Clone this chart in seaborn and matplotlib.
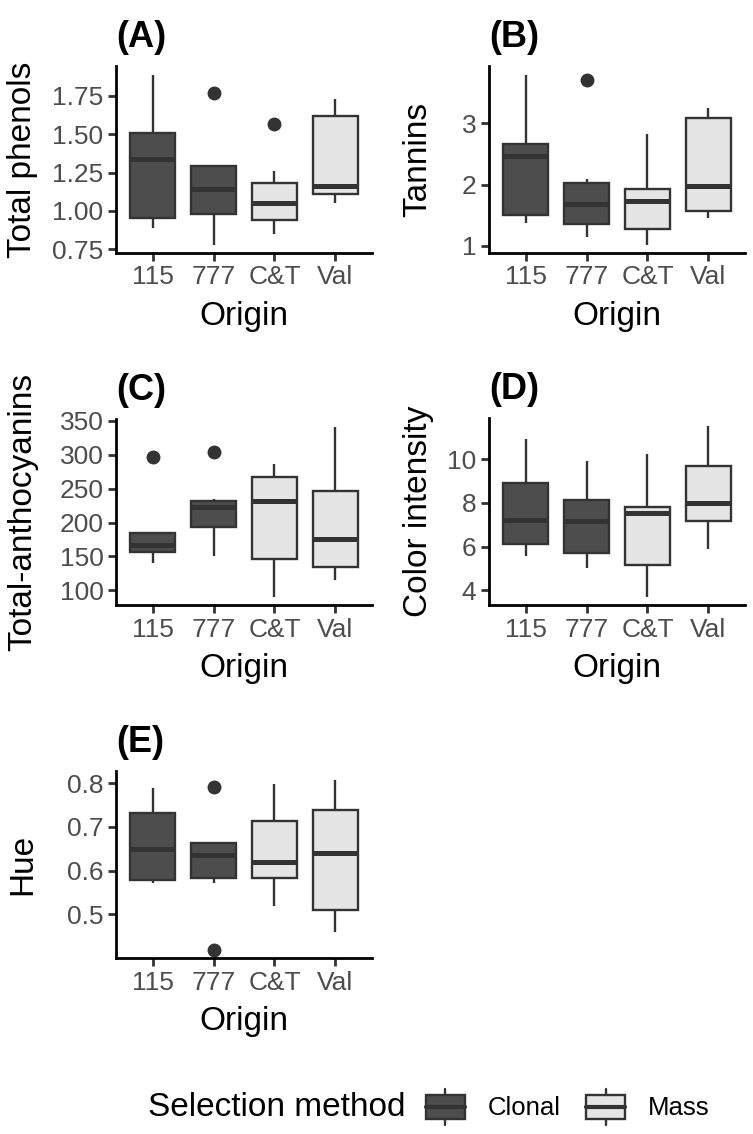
import numpy as np
import pandas as pd
import matplotlib
matplotlib.use("Agg")
import matplotlib.pyplot as plt
import seaborn as sns
from matplotlib.legend_handler import HandlerBase
from matplotlib.patches import Patch, Rectangle
from matplotlib.lines import Line2D
from matplotlib.ticker import FixedLocator, FormatStrFormatter

# categories
origins = ["115", "777", "C&T", "Val"]
selection = {"115": "Clonal", "777": "Clonal", "C&T": "Mass", "Val": "Mass"}

# values (whisker ends, quartiles, medians, outliers)
phenols_115 = [0.89, 0.92, 0.95, 1.20, 1.34, 1.45, 1.51, 1.70, 1.89]
phenols_777 = [0.78, 0.90, 0.98, 1.10, 1.14, 1.20, 1.29, 1.29, 1.77]
phenols_ct = [0.85, 0.90, 0.94, 1.00, 1.05, 1.10, 1.18, 1.26, 1.57]
phenols_val = [1.05, 1.11, 1.16, 1.62, 1.73]

tannins_115 = [1.37, 1.50, 2.47, 2.67, 3.80]
tannins_777 = [1.14, 1.25, 1.36, 1.50, 1.68, 1.90, 2.03, 2.09, 3.71]
tannins_ct = [1.02, 1.28, 1.73, 1.93, 2.83]
tannins_val = [1.46, 1.56, 1.98, 3.09, 3.26]

antho_115 = [141, 150, 157, 162, 167, 178, 185, 185, 296]
antho_777 = [150, 175, 193, 210, 223, 229, 232, 234, 304]
antho_ct = [91, 147, 231, 267, 286]
antho_val = [115, 134, 176, 247, 340]

color_115 = [5.59, 6.12, 7.23, 8.91, 10.93]
color_777 = [5.02, 5.72, 7.17, 8.14, 9.91]
color_ct = [3.72, 5.14, 7.53, 7.80, 10.25]
color_val = [5.88, 7.16, 7.98, 9.69, 11.50]

hue_115 = [0.571, 0.579, 0.650, 0.731, 0.789]
hue_777 = [0.42, 0.571, 0.583, 0.610, 0.636, 0.650, 0.663, 0.666, 0.79]
hue_ct = [0.52, 0.583, 0.619, 0.714, 0.798]
hue_val = [0.461, 0.511, 0.640, 0.739, 0.808]

panels = [
    ("(A)", "Total phenols", [phenols_115, phenols_777, phenols_ct, phenols_val], [0.75, 1.0, 1.25, 1.5, 1.75], "%.2f"),
    ("(B)", "Tannins", [tannins_115, tannins_777, tannins_ct, tannins_val], [1, 2, 3], "%d"),
    ("(C)", "Total-anthocyanins", [antho_115, antho_777, antho_ct, antho_val], [100, 150, 200, 250, 300, 350], "%d"),
    ("(D)", "Color intensity", [color_115, color_777, color_ct, color_val], [4, 6, 8, 10], "%d"),
    ("(E)", "Hue", [hue_115, hue_777, hue_ct, hue_val], [0.5, 0.6, 0.7, 0.8], "%.1f"),
]

pal = {"Clonal": "#4d4d4d", "Mass": "#e5e5e5"}
edge = "#333333"

sns.set_style("ticks")
plt.rcParams["font.family"] = ["Liberation Sans", "DejaVu Sans"]
plt.rcParams["text.color"] = "black"
plt.rcParams["axes.labelcolor"] = "black"

W, H = 753, 1134
fig = plt.figure(figsize=(W / 100, H / 100), dpi=100)

# axes boxes in pixels: left, top, right, bottom
boxes = [(116, 66, 372, 253), (489, 66, 745, 253),
         (116, 419, 372, 605), (489, 418, 745, 605),
         (116, 771, 372, 958)]
ylab_x = [23, 418, 23, 418, 23]

for i, (tag, ylab, groups, ticks, fmt) in enumerate(panels):
    l, t, r, b = boxes[i]
    ax = fig.add_axes([l / W, 1 - b / H, (r - l) / W, (b - t) / H])
    rows = []
    for o, vals in zip(origins, groups):
        for v in vals:
            rows.append({"Origin": o, "Selection method": selection[o], "value": v})
    df = pd.DataFrame(rows)

    sns.boxplot(data=df, x="Origin", y="value", hue="Selection method",
                order=origins, palette=pal, dodge=False, saturation=1,
                width=0.75, linecolor=edge, linewidth=1.7, fliersize=9,
                showcaps=False, legend=False, ax=ax,
                medianprops=dict(linewidth=3.6, color=edge),
                flierprops=dict(marker="o", markerfacecolor=edge, markeredgecolor=edge))

    allv = np.concatenate([np.asarray(g, float) for g in groups])
    span = allv.max() - allv.min()
    ax.set_ylim(allv.min() - 0.05 * span, allv.max() + 0.05 * span)
    ax.set_xlim(-0.6, 3.6)
    ax.yaxis.set_major_locator(FixedLocator(ticks))
    ax.yaxis.set_major_formatter(FormatStrFormatter(fmt))

    sns.despine(ax=ax)
    for s in ["left", "bottom"]:
        ax.spines[s].set_linewidth(2.0)
        ax.spines[s].set_color("black")
    ax.tick_params(axis="both", length=6, width=2.0, color="#333333",
                   labelsize=19, labelcolor="#4d4d4d", pad=3)

    ax.set_xlabel("Origin", fontsize=24, color="black")
    ax.set_ylabel(ylab, fontsize=24, color="black")
    ax.xaxis.set_label_coords(0.5, -(301 - 253) / 187)
    ax.yaxis.set_label_coords((ylab_x[i] - l) / (r - l), 0.5)
    ax.xaxis.label.set_va("top")
    ax.yaxis.label.set_va("center")
    ax.set_title(tag, loc="left", fontsize=26, fontweight="bold", pad=14, color="black")


class BoxHandler(HandlerBase):
    def create_artists(self, legend, orig_handle, xdescent, ydescent,
                       width, height, fontsize, trans):
        x0, y0 = -xdescent, -ydescent
        fc = orig_handle.get_facecolor()
        box = Rectangle((x0, y0 + 0.18 * height), width, 0.64 * height,
                        facecolor=fc, edgecolor=edge, linewidth=1.7, transform=trans)
        med = Line2D([x0, x0 + width], [y0 + 0.5 * height] * 2, color=edge,
                     linewidth=3.0, transform=trans)
        wl = Line2D([x0 + width / 2] * 2, [y0, y0 + 0.18 * height], color=edge,
                    linewidth=1.7, transform=trans)
        wh = Line2D([x0 + width / 2] * 2, [y0 + 0.82 * height, y0 + height],
                    color=edge, linewidth=1.7, transform=trans)
        return [box, med, wl, wh]


handles = [Patch(facecolor=pal["Clonal"]), Patch(facecolor=pal["Mass"])]
fig.text(148 / W, 1 - 1107 / H, "Selection method", fontsize=24, va="center", ha="left")
fig.legend(handles=handles, labels=["Clonal", "Mass"], handler_map={Patch: BoxHandler()},
           loc="center left", bbox_to_anchor=(426 / W, 1 - 1107 / H), ncol=2,
           frameon=False, fontsize=18.5, handlelength=1.5, handleheight=1.8,
           handletextpad=0.9, columnspacing=1.0, borderpad=0, borderaxespad=0)

fig.savefig("out.png", dpi=100)
